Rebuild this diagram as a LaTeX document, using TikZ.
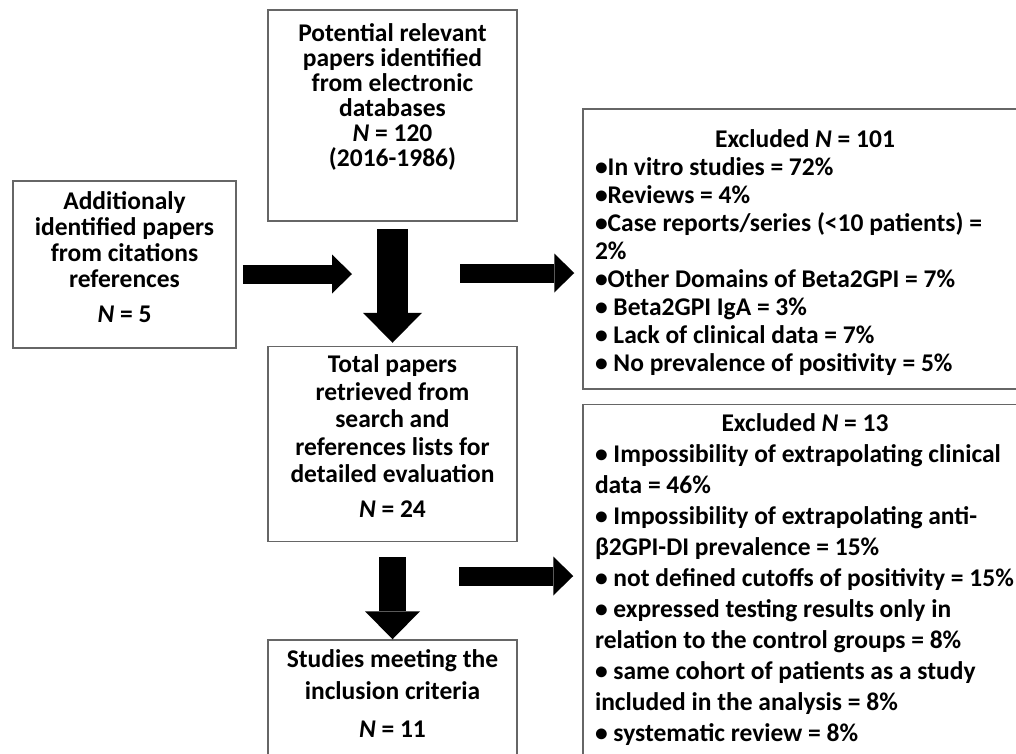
\documentclass[tikz,border=0pt]{standalone}
\usepackage{fontspec}
\setmainfont{Carlito}
\usepackage{tikz}
\usetikzlibrary{arrows.meta, positioning}
\tikzstyle{box} = [rectangle, draw=black!60, line width=1.5pt, align=center, minimum width=249pt, font=\bfseries\fontsize{25.5}{27.5}\selectfont]
\tikzstyle{excl} = [rectangle, draw=black!60, line width=1.5pt, align=flush left, text width=440pt, inner xsep=12pt, font=\bfseries\fontsize{25.5}{28}\selectfont]
\tikzstyle{arrow} = [line width=19pt, -{Triangle[length=20pt, width=39pt, line width=0pt]}]
\tikzstyle{downarrow} = [line width=31pt, -{Triangle[length=30pt, width=59pt, line width=0pt]}]
\tikzstyle{lowarrow} = [line width=27pt, -{Triangle[length=28pt, width=55pt, line width=0pt]}]

\begin{document}
\begin{tikzpicture}[x=1pt, y=1pt]
\useasboundingbox (0,0) rectangle (1016,-753);
\clip (0,0) rectangle (1016,-753);
\node (pot) [box, minimum height=211pt, font=\bfseries\fontsize{25.5}{25}\selectfont] at (392.5,-115.5) {Potential relevant\\papers identified\\from electronic\\databases\\\textit{N} = 120\\(2016-1986)\rule[-41pt]{0pt}{0pt}};
\node (add) [box, minimum width=223pt, minimum height=167pt, font=\bfseries\fontsize{25.5}{26}\selectfont] at (124.5,-264.5) {Additionaly\\identified papers\\from citations\\references\\[9pt]\textit{N} = 5\rule[-14pt]{0pt}{0pt}};
\node (tot) [box, below=124pt of pot, minimum height=195pt] {Total papers\\retrieved from\\search and\\references lists for\\detailed evaluation\\[7.5pt]\textit{N} = 24\rule[-15pt]{0pt}{0pt}};
\node (stud) [box, below=97pt of tot, minimum height=140pt, font=\bfseries\fontsize{25.5}{32}\selectfont] {Studies meeting the\\inclusion criteria\\[6pt]\textit{N} = 11\rule[-32pt]{0pt}{0pt}};
\node (ex1) [excl, minimum height=280pt] at (815,-249) {\rule{0pt}{24pt}\makebox[420pt]{Excluded \textit{N} = 101}\\
•In vitro studies = 72\%\\
•Reviews = 4\%\\
•Case reports/series (<10 patients) =\\
2\%\\
•Other Domains of Beta2GPI = 7\%\\
• Beta2GPI IgA = 3\%\\
• Lack of clinical data = 7\%\\
• No prevalence of positivity = 5\%};
\node (ex2) [excl, below=14pt of ex1, minimum height=370pt, font=\bfseries\fontsize{25.5}{31}\selectfont] {\makebox[420pt]{Excluded \textit{N} = 13}\\
• Impossibility of extrapolating clinical\\
data = 46\%\\
• Impossibility of extrapolating anti-\\
β2GPI-DI prevalence = 15\%\\
• not defined cutoffs of positivity = 15\%\\
• expressed testing results only in\\
relation to the control groups = 8\%\\
• same cohort of patients as a study\\
included in the analysis = 8\%\\
• systematic review = 8\%\rule[-24pt]{0pt}{0pt}};
\coordinate (join) at (352,-274);
\coordinate (cut1) at (460,-273);
\coordinate (cut2) at (459,-576);
\draw [arrow, shorten <=6pt] (add.east |- join) -- (join);
\draw [downarrow, shorten <=7pt, shorten >=3pt] (pot) -- (tot);
\draw [arrow, shorten >=8pt] (cut1) -- (cut1 -| ex1.west);
\draw [lowarrow, shorten <=15pt] (tot) -- (stud);
\draw [arrow, shorten >=9pt] (cut2) -- (cut2 -| ex2.west);
\end{tikzpicture}
\end{document}
